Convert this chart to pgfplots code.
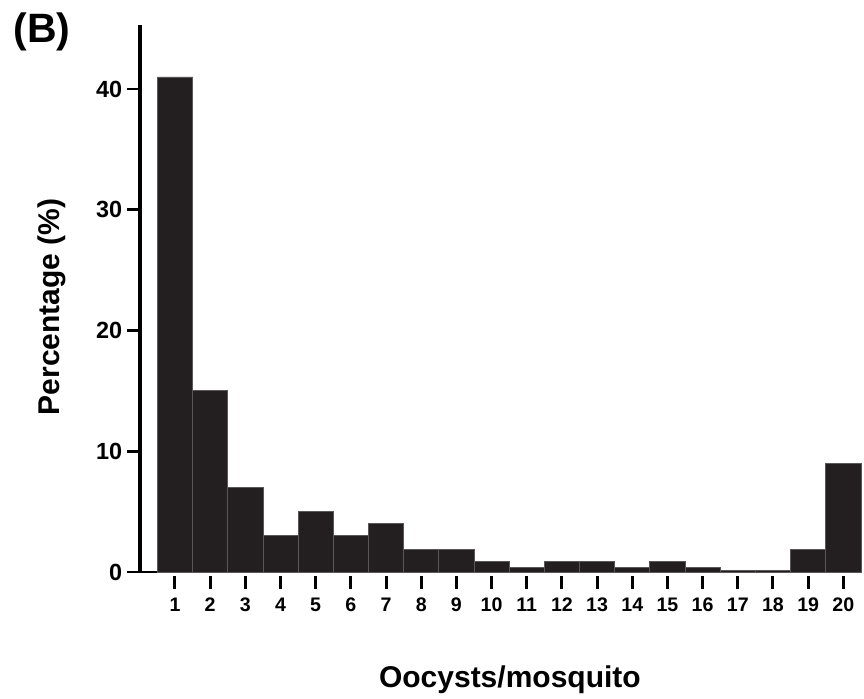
\documentclass[border=0pt]{standalone}
\usepackage{fontspec}
\setmainfont{Liberation Sans}
\usepackage{pgfplots}
\pgfplotsset{compat=1.18}
\definecolor{barfill}{HTML}{231F20}
\definecolor{baredge}{HTML}{5A5758}

\begin{document}
\begin{tikzpicture}
\begin{axis}[
    at={(0,0)}, anchor=origin,
    scale only axis,
    width=360.75pt, height=273.5pt,
    xmin=0.02, xmax=20.53,
    ymin=0, ymax=45.3,
    clip=false,
    axis x line=bottom, axis y line=left,
    x axis line style={-, line width=1.1pt},
    y axis line style={-, line width=2pt},
    tick align=outside,
    major tick length=6.5pt,
    xtick={1,...,20},
    ytick={0,10,20,30,40},
    /pgf/number format/assume math mode=true,
    major x tick style={line width=1.5pt, black, yshift=-2pt},
    major y tick style={line width=1.4pt, black},
    xticklabel style={font=\fontsize{9.8}{10}\selectfont\bfseries, inner sep=0pt,
        text height=7pt, text depth=0pt, anchor=north, yshift=-6pt},
    yticklabel style={font=\fontsize{11.7}{12}\selectfont\bfseries, inner sep=0pt, xshift=-2.5pt},
    xlabel={Oocysts/mosquito},
    ylabel={Percentage (\%)},
    xlabel style={font=\fontsize{15}{16}\selectfont\bfseries, at={(axis description cs:0.512,-0.2103)}, anchor=base},
    ylabel style={font=\fontsize{15}{16}\selectfont\bfseries, at={(axis description cs:-0.1227,0.485)}, anchor=center},
    ybar, bar width=1,
]
\addplot[fill=barfill, draw=baredge, line width=0.4pt] coordinates {
(1,41) (2,15) (3,7) (4,3) (5,5) (6,3) (7,4) (8,1.9) (9,1.9) (10,0.9)
(11,0.4) (12,0.9) (13,0.9) (14,0.4) (15,0.9) (16,0.4) (17,0.15) (18,0.15) (19,1.9) (20,9)
};
\node[font=\fontsize{20.5}{21}\selectfont\bfseries, anchor=west, inner sep=0pt]
    at (axis description cs:-0.1767,0.9876) {(B)};
\end{axis}
\pgfresetboundingbox
\path[use as bounding box] (-70.25pt,-63pt) rectangle (361.75pt,286pt);
\end{tikzpicture}
\end{document}
